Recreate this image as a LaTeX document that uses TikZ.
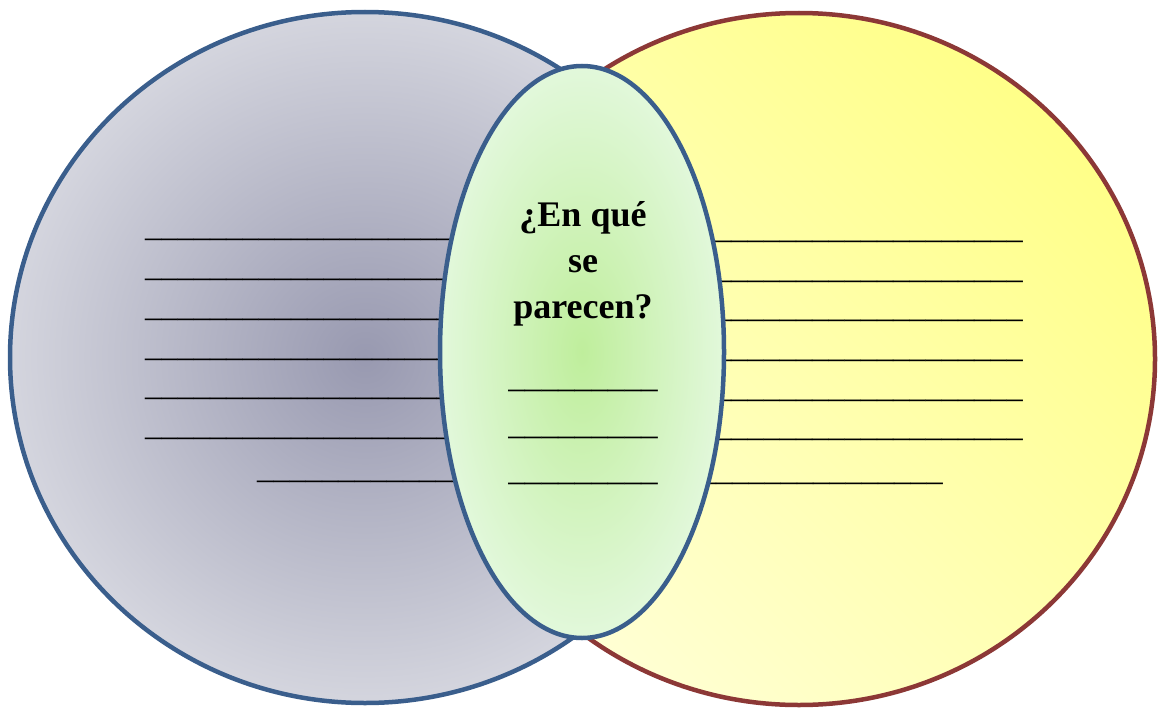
\documentclass[tikz,border=0pt]{standalone}
\usepackage{fontspec}
\setmainfont{Liberation Serif}
\definecolor{lcin}{HTML}{9899B0}
\definecolor{lcout}{HTML}{D4D5DE}
\definecolor{ybright}{HTML}{FFFF88}
\definecolor{ypale}{HTML}{FFFFD4}
\definecolor{gin}{HTML}{BFEE9C}
\definecolor{gout}{HTML}{E2F8DB}
\definecolor{blueline}{HTML}{3A5E8C}
\definecolor{redline}{HTML}{8C3836}
\newcommand\myblanks[1]{\foreach\i in {1,...,#1}{\_}}
\begin{document}
\begin{tikzpicture}[x=1pt,y=-1pt,
  rim/.style={line width=4.5pt},
  blank/.style={inner sep=0pt, font=\fontsize{32.4}{38}\selectfont},
  blankc/.style={inner sep=0pt, anchor=base, font=\fontsize{33.2}{38}\selectfont},
  head/.style={inner sep=0pt, anchor=base, font=\fontsize{36}{46}\selectfont\bfseries}]
\useasboundingbox (0,0) rectangle (1159,709);
% right (yellow) set
\shade[top color=ybright, bottom color=ypale, shading angle=-45]
  (799,359) ellipse [x radius=356pt, y radius=346pt];
\draw[rim, redline] (799,359) ellipse [x radius=356pt, y radius=346pt];
% left (grey) set
\shade[inner color=lcin, outer color=lcout]
  (365,357.5) ellipse [x radius=355pt, y radius=345.5pt];
\draw[rim, blueline] (365,357.5) ellipse [x radius=355pt, y radius=345.5pt];
% left blanks
\node[blank, anchor=base west] (l1) at (145,236.3) {\myblanks{20}};
\node[blank, anchor=base west] (l2) at (145,276.3) {\myblanks{20}};
\node[blank, anchor=base west] (l3) at (145,316.3) {\myblanks{20}};
\node[blank, anchor=base west] (l4) at (145,356.3) {\myblanks{20}};
\node[blank, anchor=base west] (l5) at (145,395.3) {\myblanks{20}};
\node[blank, anchor=base west] (l6) at (145,435.3) {\myblanks{20}};
\node[blank, anchor=base west] (l7) at (257,478.3) {\myblanks{13}};
% right blanks
\node[blank, anchor=base east] (r1) at (1023,238.3) {\myblanks{20}};
\node[blank, anchor=base east] (r2) at (1023,278.3) {\myblanks{20}};
\node[blank, anchor=base east] (r3) at (1023,317.3) {\myblanks{20}};
\node[blank, anchor=base east] (r4) at (1023,357.3) {\myblanks{20}};
\node[blank, anchor=base east] (r5) at (1023,397.3) {\myblanks{20}};
\node[blank, anchor=base east] (r6) at (1023,436.3) {\myblanks{20}};
\node[blank, anchor=base east] (r7) at (943,480.3) {\myblanks{15}};
% centre (green) set
\shade[inner color=gin, outer color=gout]
  (582,352) ellipse [x radius=142pt, y radius=286pt];
\draw[rim, blueline] (582,352) ellipse [x radius=142pt, y radius=286pt];
\node[head] (h1) at (583,226) {¿En qué};
\node[head] (h2) at (583,272) {se};
\node[head] (h3) at (583,318.3) {parecen?};
\node[blankc] (c1) at (583,387.3) {\myblanks{9}};
\node[blankc] (c2) at (583,434) {\myblanks{9}};
\node[blankc] (c3) at (583,480.6) {\myblanks{9}};
\end{tikzpicture}
\end{document}
